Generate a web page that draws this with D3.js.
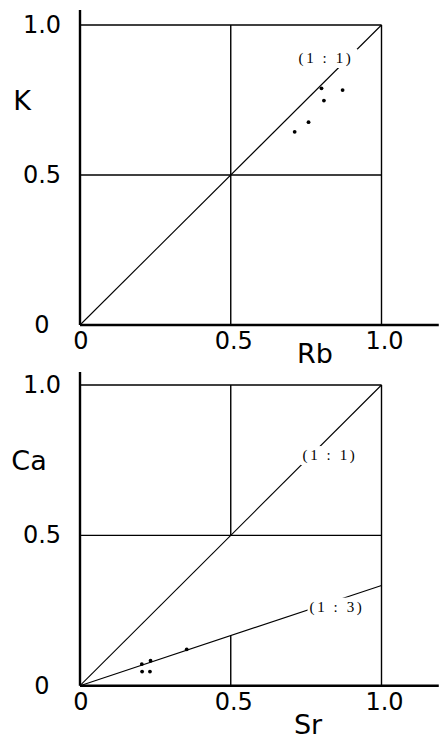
<!DOCTYPE html>
<html>
<head>
<meta charset="utf-8">
<script src="https://cdn.jsdelivr.net/npm/d3@7"></script>
<style>
  html, body { margin: 0; padding: 0; background: #fff; }
  svg { display: block; }
</style>
</head>
<body>
<svg id="chart" width="440" height="740"></svg>
<script>
// Rb vs K (upper panel)
const rbValues = [0.801, 0.871, 0.809, 0.758, 0.712];
const kValues  = [0.789, 0.783, 0.748, 0.676, 0.644];

// Sr vs Ca (lower panel)
const srValues = [0.205, 0.234, 0.206, 0.232, 0.354];
const caValues = [0.072, 0.083, 0.047, 0.047, 0.121];

// Tick labels and reference-line ratios
const tickValues = [0, 0.5, 1.0];
const tickLabels = ["0", "0.5", "1.0"];
const ratioLines = [
  { panel: "top",    slope: 1,     label: "(1 : 1)" },
  { panel: "bottom", slope: 1,     label: "(1 : 1)" },
  { panel: "bottom", slope: 1 / 3, label: "(1 : 3)" }
];

const svg = d3.select("#chart");
const sansFont = "'DejaVu Sans', sans-serif";
const serifFont = "'Liberation Serif', 'DejaVu Serif', serif";

const x = d3.scaleLinear().domain([0, 1]).range([80, 381.5]);

const panels = {
  top: {
    y: d3.scaleLinear().domain([0, 1]).range([325, 25]),
    xs: rbValues, ys: kValues, xTitle: "Rb", yTitle: "K",
    yAxisTop: 1.05
  },
  bottom: {
    y: d3.scaleLinear().domain([0, 1]).range([685.7, 385]),
    xs: srValues, ys: caValues, xTitle: "Sr", yTitle: "Ca",
    yAxisTop: 1.043
  }
};

function drawPanel(key) {
  const p = panels[key];
  const y = p.y;
  const g = svg.append("g").attr("class", "panel-" + key);

  // Grid lines at 0.5 and 1.0
  [0.5, 1.0].forEach(v => {
    g.append("line")
      .attr("x1", x(0)).attr("x2", x(1))
      .attr("y1", y(v)).attr("y2", y(v))
      .attr("stroke", "#000").attr("stroke-width", 1.4);
  });
  // Vertical at 1.0
  g.append("line")
    .attr("x1", x(1)).attr("x2", x(1))
    .attr("y1", y(1)).attr("y2", y(0))
    .attr("stroke", "#000").attr("stroke-width", 1.4);
  // Vertical at 0.5 (lower panel: only above the 1:1 line and below the 1:3 line)
  if (key === "top") {
    g.append("line")
      .attr("x1", x(0.5)).attr("x2", x(0.5))
      .attr("y1", y(1)).attr("y2", y(0))
      .attr("stroke", "#000").attr("stroke-width", 1.4);
  } else {
    g.append("line")
      .attr("x1", x(0.5)).attr("x2", x(0.5))
      .attr("y1", y(1)).attr("y2", y(0.5))
      .attr("stroke", "#000").attr("stroke-width", 1.4);
    g.append("line")
      .attr("x1", x(0.5)).attr("x2", x(0.5))
      .attr("y1", y(0.5 / 3)).attr("y2", y(0))
      .attr("stroke", "#000").attr("stroke-width", 1.4);
  }

  // Axes
  g.append("line")
    .attr("x1", x(0)).attr("x2", x(1.19))
    .attr("y1", y(0)).attr("y2", y(0))
    .attr("stroke", "#000").attr("stroke-width", 2.4);
  g.append("line")
    .attr("x1", x(0)).attr("x2", x(0))
    .attr("y1", y(p.yAxisTop)).attr("y2", y(0))
    .attr("stroke", "#000").attr("stroke-width", 2.4);

  // Ratio lines
  ratioLines.filter(r => r.panel === key).forEach(r => {
    g.append("line")
      .attr("x1", x(0)).attr("y1", y(0))
      .attr("x2", x(1)).attr("y2", y(r.slope))
      .attr("stroke", "#000").attr("stroke-width", 1.1);
  });

  // Points
  g.selectAll("circle.pt")
    .data(p.xs.map((v, i) => [v, p.ys[i]]))
    .join("circle")
    .attr("class", "pt")
    .attr("cx", d => x(d[0]))
    .attr("cy", d => y(d[1]))
    .attr("r", 1.9)
    .attr("fill", "#000");

  // Y tick labels
  tickValues.forEach((v, i) => {
    g.append("text")
      .attr("x", 42).attr("y", y(v))
      .attr("text-anchor", "middle")
      .attr("dominant-baseline", "central")
      .attr("font-family", sansFont)
      .attr("font-size", 24)
      .text(tickLabels[i]);
  });
  // X tick labels
  tickValues.forEach((v, i) => {
    g.append("text")
      .attr("x", x(v) + (v === 0 ? 1 : 3)).attr("y", y(0) + 16)
      .attr("text-anchor", "middle")
      .attr("dominant-baseline", "central")
      .attr("font-family", sansFont)
      .attr("font-size", 24)
      .text(tickLabels[i]);
  });

  // Axis titles
  g.append("text")
    .attr("x", key === "top" ? 315 : 308).attr("y", y(0) + (key === "top" ? 28 : 39))
    .attr("text-anchor", "middle").attr("dominant-baseline", "central")
    .attr("font-family", sansFont).attr("font-size", 27)
    .text(p.xTitle);
  g.append("text")
    .attr("x", key === "top" ? 22 : 29).attr("y", y(0.75))
    .attr("text-anchor", "middle").attr("dominant-baseline", "central")
    .attr("font-family", sansFont).attr("font-size", 27)
    .text(p.yTitle);
  return g;
}

const gTop = drawPanel("top");
const gBot = drawPanel("bottom");

// Ratio labels with a white backing that breaks the line behind them
function ratioLabel(g, cx, cy, text) {
  const t = g.append("text")
    .attr("x", cx).attr("y", cy)
    .attr("text-anchor", "middle").attr("dominant-baseline", "central")
    .attr("font-family", serifFont).attr("font-size", 15)
    .attr("letter-spacing", 2.6)
    .text(text);
  const b = t.node().getBBox();
  g.insert("rect", "text")
    .attr("x", b.x - 2).attr("y", b.y - 1)
    .attr("width", b.width + 6).attr("height", b.height + 2)
    .attr("fill", "#fff");
  return t;
}

ratioLabel(gTop, 326, panels.top.y(0.89), "(1 : 1)");
ratioLabel(gBot, 330, panels.bottom.y(0.767), "(1 : 1)");
ratioLabel(gBot, 337, panels.bottom.y(0.263), "(1 : 3)");
</script>
</body>
</html>
